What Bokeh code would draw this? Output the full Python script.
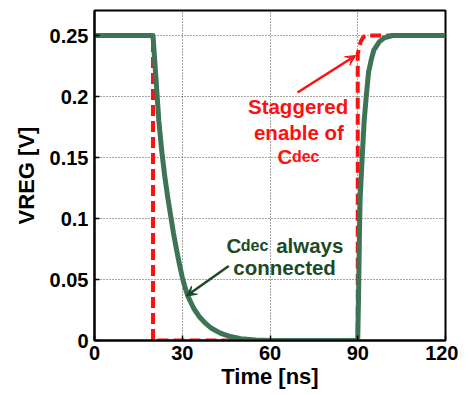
from bokeh.plotting import figure
from bokeh.embed import file_html
from bokeh.resources import INLINE
from bokeh.models import Range1d, FixedTicker, Label, Arrow, VeeHead

# ---- data ----
green_t = [0, 20, 21, 22, 23, 24, 25, 26, 27, 28, 29, 30, 31, 32, 34, 36, 38, 40, 43, 46, 50, 55, 60,
           90, 90.3, 90.6, 90.8, 91.5, 92.2, 92.9, 93.7, 94.6, 95.5, 97.4, 99, 102, 120]
green_v = [0.25, 0.25, 0.215, 0.18, 0.155, 0.135, 0.118, 0.103, 0.088, 0.075, 0.063, 0.052, 0.043,
           0.036, 0.026, 0.019, 0.014, 0.010, 0.006, 0.0035, 0.0015, 0.0005, 0.0,
           0.0, 0.04, 0.09, 0.115, 0.15, 0.18, 0.2, 0.22, 0.23, 0.238, 0.245, 0.248, 0.25, 0.25]
red_t = [0, 20, 20, 90, 90, 91, 92, 93, 120]
red_v = [0.25, 0.25, 0.0, 0.0, 0.235, 0.245, 0.249, 0.25, 0.25]
x_ticks = [0, 30, 60, 90, 120]
y_ticks = [0, 0.05, 0.1, 0.15, 0.2, 0.25]
y_tick_labels = {0: "0", 0.05: "0.05", 0.1: "0.1", 0.15: "0.15", 0.2: "0.2", 0.25: "0.25"}

FONT = "Liberation Sans"
GREEN = "#3d7456"
DKGREEN = "#1c4a26"
RED = "#ff1010"

p = figure(width=458, height=392, output_backend="svg", toolbar_location=None,
           x_range=Range1d(0, 120), y_range=Range1d(0, 0.2705),
           min_border_left=94, min_border_right=13, min_border_top=10, min_border_bottom=52,
           x_axis_label="Time [ns]", y_axis_label="VREG [V]")
p.outline_line_color = "black"
p.outline_line_width = 2
p.background_fill_color = "white"
p.border_fill_color = "white"

for ax in (p.xaxis[0], p.yaxis[0]):
    ax.axis_line_width = 2
    ax.major_tick_in = 5
    ax.major_tick_out = 0
    ax.minor_tick_line_color = None
    ax.major_tick_line_width = 1.5
    ax.major_label_text_font = FONT
    ax.major_label_text_font_style = "bold"
    ax.major_label_text_font_size = "20px"
    ax.major_label_text_color = "black"
    ax.axis_label_text_font = FONT
    ax.axis_label_text_font_style = "bold"
    ax.axis_label_text_font_size = "22px"
    ax.axis_label_text_color = "black"
p.xaxis.ticker = FixedTicker(ticks=x_ticks)
p.yaxis.ticker = FixedTicker(ticks=y_ticks)
p.yaxis.major_label_overrides = y_tick_labels
p.xaxis.major_label_standoff = 5
p.yaxis.major_label_standoff = 6
p.xaxis.axis_label_standoff = 1
p.yaxis.axis_label_standoff = 8

p.xgrid.ticker = FixedTicker(ticks=[30, 60, 90])
p.ygrid.ticker = FixedTicker(ticks=[0.05, 0.1, 0.15, 0.2, 0.25])
for g in (p.xgrid[0], p.ygrid[0]):
    g.grid_line_color = "black"
    g.grid_line_alpha = 0.7
    g.grid_line_dash = "1 2"
    g.grid_line_width = 1

p.line(red_t, red_v, line_color=RED, line_width=4, line_dash="11 5")
p.line(green_t, green_v, line_color=GREEN, line_width=5, line_join="round")

def lab(x, y, text, color, size, align="left"):
    p.add_layout(Label(x=x, y=y, text=text, text_color=color, text_font=FONT,
                       text_font_style="bold", text_font_size=size,
                       text_align=align, text_baseline="alphabetic"))

# red annotation
lab(69.6, 0.1918, "Staggered", RED, "20.5px", "center")
lab(69.9, 0.1705, "enable of", RED, "20.5px", "center")
lab(62.6, 0.1508, "C", RED, "20.5px")
lab(67.5, 0.1508, "dec", RED, "16px")
p.add_layout(Arrow(x_start=69.4, y_start=0.2033, x_end=89.3, y_end=0.2336,
                   line_color=RED, line_width=2.5,
                   end=VeeHead(size=10, line_color=RED, fill_color=RED, line_width=1)))

# green annotation
lab(45.1, 0.0779, "C", DKGREEN, "20.5px")
lab(50.0, 0.0779, "dec", DKGREEN, "16px")
lab(62.1, 0.0779, "always", DKGREEN, "20.5px")
lab(65.0, 0.0600, "connected", DKGREEN, "20.5px", "center")
p.add_layout(Arrow(x_start=45.9, y_start=0.061, x_end=31.4, y_end=0.0365,
                   line_color=DKGREEN, line_width=2.5,
                   end=VeeHead(size=10, line_color=DKGREEN, fill_color=DKGREEN, line_width=1)))

open("out.html", "w").write(file_html(p, INLINE))
